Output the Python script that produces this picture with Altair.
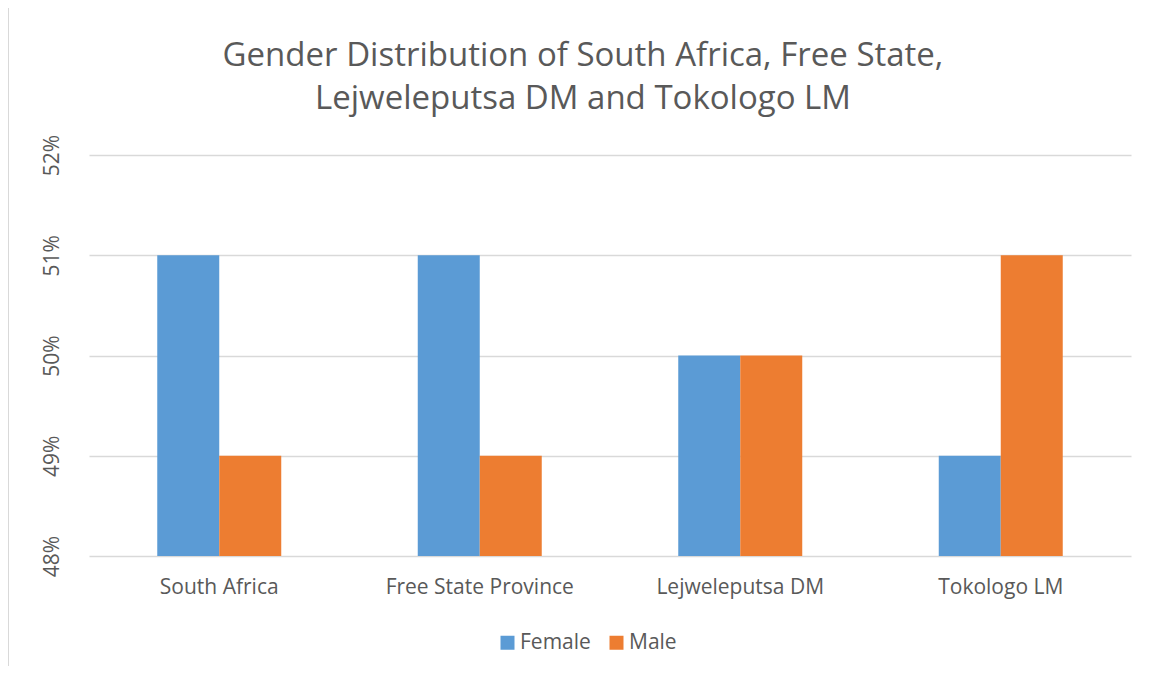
import altair as alt
import pandas as pd

categories = ["South Africa", "Free State Province", "Lejweleputsa DM", "Tokologo LM"]
series = ["Female", "Male"]
female = [0.51, 0.51, 0.50, 0.49]
male = [0.49, 0.49, 0.50, 0.51]
y_ticks = [0.48, 0.49, 0.50, 0.51, 0.52]
colors = ["#5B9BD5", "#ED7D31"]
title_lines = ["Gender Distribution of South Africa, Free State,", "Lejweleputsa DM and Tokologo LM"]

rows = []
for i, c in enumerate(categories):
    rows.append({"category": c, "series": "Female", "value": female[i]})
    rows.append({"category": c, "series": "Male", "value": male[i]})
df = pd.DataFrame(rows)

FONT = "Open Sans"
GREY = "#595959"
W, H = 1042, 401

bars = alt.Chart(df).mark_bar().encode(
    x=alt.X("category:N", sort=categories, title=None,
            scale=alt.Scale(paddingInner=0.524, paddingOuter=0.262),
            axis=alt.Axis(labelAngle=0, labelFontSize=21, labelColor=GREY, labelFont=FONT,
                          labelLimit=400, ticks=False, domain=False, grid=False, labelPadding=20)),
    xOffset=alt.XOffset("series:N", sort=series, scale=alt.Scale(paddingInner=0, paddingOuter=0)),
    y=alt.Y("value:Q", title=None,
            scale=alt.Scale(domain=[y_ticks[0], y_ticks[-1]], zero=False, nice=False),
            axis=alt.Axis(values=y_ticks, format=".0%", labelAngle=-90, labelAlign="center",
                          labelBaseline="middle", labelFontSize=21, labelColor=GREY, labelFont=FONT,
                          ticks=False, domain=False, grid=True, gridColor="#D9D9D9",
                          gridWidth=1.5, labelPadding=37)),
    y2=alt.datum(y_ticks[0]),
    color=alt.Color("series:N", sort=series, title=None,
                    scale=alt.Scale(domain=series, range=colors),
                    legend=alt.Legend(orient="none", direction="horizontal", legendX=408, legendY=477,
                                      symbolType="square", symbolSize=196, symbolStrokeWidth=0,
                                      labelFontSize=21, labelColor=GREY, labelFont=FONT,
                                      labelOffset=2, columnPadding=15)),
)

frame_top = alt.Chart(df).mark_rule(color="#D9D9D9", strokeWidth=1).encode(
    x=alt.value(-81), x2=alt.value(W + 100), y=alt.value(-147.5))
frame_left = alt.Chart(df).mark_rule(color="#D9D9D9", strokeWidth=1).encode(
    x=alt.value(-80.5), y=alt.value(-148), y2=alt.value(H + 200))

chart = alt.layer(frame_top, frame_left, bars).properties(
    width=W, height=H,
    autosize=alt.AutoSizeParams(type="none"),
    padding={"left": 81, "top": 147, "right": 15, "bottom": 110},
    title=alt.Title(title_lines, fontSize=33, font=FONT, color=GREY, fontWeight="normal",
                    lineHeight=43, anchor="middle", dx=-27, offset=-109),
).configure(background="white").configure_view(strokeWidth=0, stroke="transparent")

chart.save("out.html", embed_options={"renderer": "svg", "actions": False})
